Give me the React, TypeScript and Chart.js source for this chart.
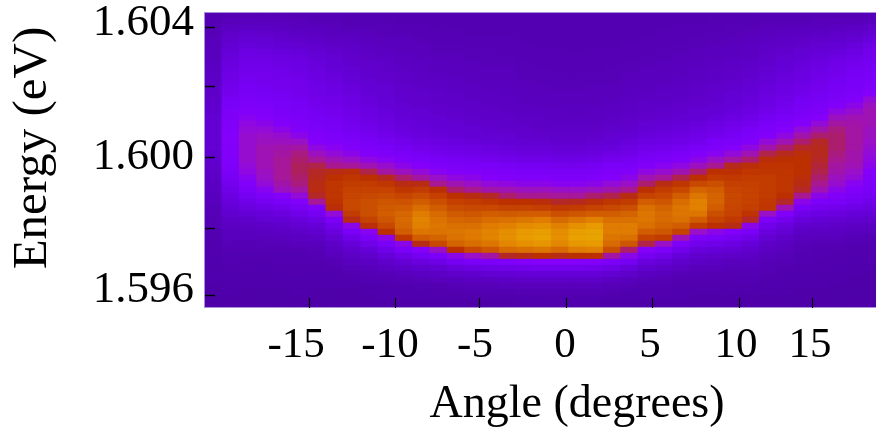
import React, { useEffect, useRef } from "react";
import { Chart, registerables } from "chart.js";

Chart.register(...registerables);

// Column angles (degrees), one per measured column
const angles = [-20.35,-19.35,-18.35,-17.35,-16.35,-15.35,-14.35,-13.35,-12.35,-11.35,-10.35,-9.35,-8.35,-7.35,-6.35,-5.35,-4.35,-3.35,-2.35,-1.35,-0.35,0.65,1.65,2.65,3.65,4.65,5.65,6.65,7.65,8.65,9.65,10.65,11.65,12.65,13.65,14.65,15.65,16.65,17.65];

const energyTop = 1.60434;
const energyStep = 0.00018;

const xTickLabels = ["-15", "-10", "-5", "0", "5", "10", "15"];
const xLabelAngles = [-15.57, -10.15, -5.25, -0.06, 4.84, 9.8, 14.07];
const xMarkAngles = [-14.82, -9.86, -5.02, 0, 4.96, 9.98, 14.19];
const yTickLabels = ["1.604", "1.600", "1.596"];
const yLabelEnergies = [1.604, 1.6, 1.596];
const yMarkEnergies = [1.60389, 1.60213, 1.6, 1.59787, 1.59587];

// Intensity per column, top row first (50 rows)
const c00 = [8,9,10,10,11,11,12,12,13,13, 14,14,15,15,16,17,17,18,18,18, 18,18,18,17,17,16,15,14,13,13, 12,11,10,10,9,9,8,8,7,7, 7,6,6,6,6,5,5,5,5,5];
const c01 = [9,11,13,15,17,18,20,21,22,23, 24,25,26,27,29,30,32,33,34,35, 36,36,35,35,34,33,31,29,27,25, 23,21,19,17,15,13,12,11,10,9, 8,8,7,7,6,6,6,5,5,5];
const c02 = [10,12,14,17,19,21,23,24,25,26, 27,28,29,30,31,33,35,37,39,40, 41,41,41,41,41,40,39,37,34,31, 28,25,22,19,16,14,12,11,9,9, 8,7,7,6,6,6,5,5,5,5];
const c03 = [10,12,14,16,18,20,22,24,25,26, 27,27,28,29,30,32,34,36,38,40, 42,43,44,44,44,44,43,42,40,37, 32,28,24,21,18,15,13,11,10,9, 8,7,7,6,6,6,5,5,5,5];
const c04 = [10,11,13,15,17,19,21,23,24,25, 26,27,27,28,29,30,31,33,35,38, 41,43,45,46,47,47,47,47,45,43, 36,30,26,22,19,16,14,12,10,9, 8,8,7,7,6,6,5,5,5,5];
const c05 = [9,11,12,14,16,18,20,22,23,24, 25,26,26,27,28,29,30,31,33,35, 38,42,46,49,50,51,51,50,49,46, 40,34,29,25,21,18,15,13,11,9, 8,8,7,7,6,6,6,5,5,5];
const c06 = [9,10,12,13,15,17,18,20,21,22, 23,24,25,25,26,27,28,29,30,32, 34,36,39,43,47,52,54,55,56,56, 54,47,34,28,24,20,17,14,12,10, 9,8,7,7,6,6,5,5,5,5];
const c07 = [9,10,11,12,14,15,17,18,19,20, 21,22,23,24,25,26,27,28,29,30, 32,34,37,40,44,48,56,58,60,60, 60,59,57,40,31,26,22,18,15,13, 11,9,8,7,7,6,5,5,5,5];
const c08 = [8,9,10,12,13,14,15,16,17,18, 19,20,21,22,23,24,25,26,27,28, 30,32,34,38,42,47,57,60,62,64, 65,66,66,62,56,38,30,25,20,17, 14,12,10,8,7,6,5,5,5,5];
const c09 = [8,9,10,11,12,13,14,15,16,17, 17,18,19,20,21,22,23,24,25,26, 28,30,32,35,39,44,52,58,62,64, 66,68,68,68,64,57,37,30,25,20, 16,13,11,9,8,6,6,5,5,5];
const c10 = [8,9,10,10,11,12,13,14,15,15, 16,17,18,18,19,20,21,22,23,24, 26,28,30,33,37,41,46,55,60,64, 67,70,71,72,70,66,58,38,30,25, 20,16,13,10,8,7,6,6,5,5];
const c11 = [8,8,9,10,11,11,12,13,13,14, 15,15,16,17,17,18,19,20,21,22, 24,26,28,31,34,38,43,50,56,60, 65,69,72,75,76,75,72,60,38,30, 24,19,15,12,9,7,6,6,5,5];
const c12 = [8,8,9,9,10,11,11,12,13,13, 14,14,15,16,16,17,18,19,20,21, 22,24,26,29,32,36,40,46,56,62, 67,72,77,82,85,84,80,72,56,36, 28,22,17,13,10,8,6,6,5,5];
const c13 = [8,8,8,9,9,10,10,11,12,12, 13,14,14,15,15,16,17,18,19,20, 21,23,25,27,30,33,37,42,48,58, 63,68,72,76,79,80,79,74,66,42, 31,24,18,14,11,8,7,6,5,5];
const c14 = [8,8,8,9,9,10,10,11,11,12, 12,13,13,14,15,15,16,17,18,19, 20,22,24,26,29,32,35,39,44,50, 58,63,67,71,75,78,80,79,74,58, 38,28,21,16,12,9,7,6,5,5];
const c15 = [8,8,8,8,9,9,10,10,11,11, 12,12,13,13,14,15,15,16,17,18, 19,21,23,25,28,31,34,38,42,48, 56,62,66,70,74,78,81,81,77,66, 42,30,23,17,13,10,8,6,5,5];
const c16 = [8,8,8,8,9,9,10,10,10,11, 11,12,12,13,13,14,15,15,16,17, 18,20,22,24,27,30,33,36,40,45, 54,60,66,72,77,82,85,85,80,70, 46,31,24,18,13,10,8,6,5,5];
const c17 = [8,8,8,8,9,9,9,10,10,11, 11,11,12,12,13,13,14,15,15,16, 18,19,21,23,26,29,32,35,39,44, 50,58,64,71,78,84,89,90,86,76, 54,33,25,19,14,11,8,6,5,5];
const c18 = [8,8,8,8,8,9,9,9,10,10, 10,11,11,12,12,13,13,14,15,16, 17,18,20,22,25,28,31,34,38,43, 48,58,64,72,80,88,94,95,90,78, 56,35,26,20,15,11,9,7,6,5];
const c19 = [8,8,8,8,8,8,9,9,9,10, 10,10,11,11,12,12,13,14,14,15, 16,18,20,22,25,28,31,34,38,43, 48,57,63,72,82,90,96,97,92,80, 58,36,27,20,15,11,9,7,6,5];
const c20 = [8,8,8,8,8,8,9,9,9,9, 10,10,10,11,11,12,13,13,14,15, 16,17,19,21,24,27,30,33,37,42, 47,54,61,68,76,84,89,90,86,76, 56,36,27,20,15,11,9,7,6,5];
const c21 = [8,8,8,8,8,8,8,9,9,9, 10,10,10,11,11,12,12,13,14,15, 16,17,19,21,24,27,30,33,37,42, 47,55,62,70,80,90,96,97,93,82, 58,36,27,20,15,11,9,7,6,5];
const c22 = [8,8,8,8,8,8,9,9,9,9, 10,10,11,11,11,12,13,13,14,15, 16,18,20,22,25,28,31,34,38,43, 50,57,64,72,84,94,98,98,94,84, 58,35,26,20,15,11,9,7,6,5];
const c23 = [8,8,8,8,8,8,9,9,9,10, 10,10,11,11,12,13,13,14,15,16, 18,19,21,24,27,30,33,36,40,45, 52,60,66,72,78,82,82,80,76,68, 46,31,24,18,13,10,8,6,5,5];
const c24 = [8,8,8,8,8,9,9,9,10,10, 11,11,12,12,13,14,14,15,16,17, 19,21,23,25,28,31,34,38,42,48, 56,62,68,74,78,82,82,78,70,50, 38,28,21,16,12,9,7,6,5,5];
const c25 = [8,8,8,8,9,9,9,10,10,11, 11,12,12,13,14,15,15,16,18,19, 21,23,25,28,31,35,39,44,50,58, 64,72,78,80,80,78,72,64,52,36, 28,22,17,13,10,8,7,6,5,5];
const c26 = [8,8,8,9,9,9,10,10,11,11, 12,12,13,14,14,15,16,17,19,20, 22,24,26,29,33,37,41,47,56,62, 66,70,74,76,76,74,70,62,42,32, 25,20,15,12,9,8,7,6,5,5];
const c27 = [8,8,9,9,9,10,10,11,11,12, 12,13,14,14,15,16,17,18,20,21, 23,25,28,31,35,39,44,52,60,66, 72,77,80,80,78,72,64,44,33,26, 20,16,13,10,8,7,6,6,5,5];
const c28 = [8,8,9,9,10,10,11,11,12,13, 13,14,15,15,16,17,18,19,21,23, 25,27,30,34,38,43,50,58,66,74, 80,84,84,80,72,62,42,32,26,21, 17,14,11,9,8,7,6,5,5,5];
const c29 = [8,9,9,10,10,11,12,12,13,14, 14,15,16,17,17,18,19,21,23,25, 27,30,33,37,42,48,58,62,68,72, 74,74,72,68,64,58,38,30,25,20, 16,13,11,9,8,7,6,5,5,5];
const c30 = [8,9,10,10,11,12,12,13,14,15, 15,16,17,18,19,20,21,23,25,27, 29,32,36,40,46,55,58,61,63,65, 66,66,65,64,61,56,35,28,23,19, 15,12,10,9,8,7,6,5,5,5];
const c31 = [8,9,10,11,12,13,13,14,15,16, 17,18,19,20,21,22,23,25,27,30, 32,35,39,44,50,57,60,62,63,64, 64,64,63,59,54,38,30,25,20,17, 14,12,10,9,8,7,6,5,5,5];
const c32 = [9,10,11,12,13,14,15,16,17,18, 19,20,21,22,23,24,26,28,30,33, 36,40,45,52,57,59,60,62,62,62, 62,61,60,42,32,26,22,18,15,13, 11,10,9,8,7,6,6,5,5,5];
const c33 = [9,10,11,13,14,15,17,18,19,20, 21,22,23,24,25,27,28,30,33,36, 39,44,50,55,58,59,60,60,60,60, 58,54,44,34,27,22,18,15,13,11, 10,9,8,7,7,6,6,5,5,5];
const c34 = [9,10,12,13,15,16,18,19,21,22, 23,24,25,26,28,29,31,33,36,40, 45,50,54,57,58,58,58,57,56,54, 48,38,30,25,21,17,14,12,10,9, 8,8,7,7,6,6,5,5,5,5];
const c35 = [9,11,12,14,16,18,20,21,23,24, 25,26,27,28,29,31,33,36,40,45, 50,54,55,55,54,53,52,50,48,44, 38,32,27,23,19,16,13,11,9,8, 8,7,7,6,6,6,5,5,5,5];
const c36 = [9,11,13,15,17,19,21,23,25,26, 27,28,29,30,32,35,39,43,46,49, 50,50,50,49,48,46,45,43,41,38, 34,30,26,22,18,15,13,11,9,8, 7,7,7,6,6,5,5,5,5,5];
const c37 = [9,11,14,16,18,21,23,25,27,28, 29,30,31,32,35,38,41,44,45,46, 46,46,46,45,45,44,42,40,37,34, 31,28,24,20,17,14,12,10,8,7, 7,6,6,6,5,5,5,5,5,5];
const c38 = [10,12,15,18,21,24,26,27,28,29, 30,31,33,36,40,43,44,44,44,43, 43,42,41,40,39,38,36,34,32,30, 28,25,22,19,16,13,11,9,8,7, 7,6,6,5,5,5,5,5,5,5];

const columns = [c00,c01,c02,c03,c04,c05,c06,c07,c08,c09,c10,c11,c12,c13,c14,c15,c16,c17,c18,c19,c20,c21,c22,c23,c24,c25,c26,c27,c28,c29,c30,c31,c32,c33,c34,c35,c36,c37,c38];

const ramp: [number, number, number, number][] = [
  [0, 0x48, 0x00, 0x9a], [10, 0x56, 0x00, 0xb8], [20, 0x66, 0x00, 0xd8], [30, 0x7a, 0x00, 0xf8],
  [36, 0x84, 0x00, 0xfa], [42, 0x9a, 0x10, 0xc8], [48, 0xa8, 0x18, 0x90], [54, 0xb4, 0x28, 0x28],
  [58, 0xbc, 0x30, 0x00], [66, 0xc8, 0x48, 0x00], [74, 0xd4, 0x64, 0x00], [82, 0xe0, 0x7c, 0x00],
  [90, 0xe6, 0x90, 0x00], [100, 0xea, 0xa8, 0x00],
];

function colorOf(v: number): string {
  for (let i = 1; i < ramp.length; i++) {
    if (v <= ramp[i][0]) {
      const a = ramp[i - 1], b = ramp[i];
      const t = (v - a[0]) / (b[0] - a[0]);
      const m = (k: number) => Math.round(a[k] + (b[k] - a[k]) * t);
      return `rgb(${m(1)},${m(2)},${m(3)})`;
    }
  }
  return "#eaa800";
}

const SERIF = "'Liberation Serif', serif";

const decorations = {
  id: "decorations",
  afterDatasetsDraw(chart: any) {
    const { ctx, chartArea: a, scales } = chart;
    ctx.save();
    ctx.strokeStyle = "#a98fe0";
    ctx.lineWidth = 1;
    ctx.strokeRect(a.left + 0.5, a.top + 0.5, a.right - a.left, a.bottom - a.top - 1);
    ctx.strokeStyle = "#000";
    ctx.lineWidth = 1.2;
    xMarkAngles.forEach((v) => {
      const p = Math.round(scales.x.getPixelForValue(v)) + 0.5;
      ctx.beginPath(); ctx.moveTo(p, a.bottom - 10); ctx.lineTo(p, a.bottom); ctx.stroke();
    });
    ctx.lineWidth = 1.4;
    yMarkEnergies.forEach((v) => {
      const p = Math.round(scales.y.getPixelForValue(v)) + 0.5;
      ctx.beginPath(); ctx.moveTo(a.left + 1, p); ctx.lineTo(a.left + 11, p); ctx.stroke();
    });
    ctx.fillStyle = "#000";
    ctx.textAlign = "center";
    ctx.textBaseline = "middle";
    ctx.font = `46px ${SERIF}`;
    ctx.fillText("Angle (degrees)", 577, 405);
    ctx.translate(33, 148);
    ctx.rotate(-Math.PI / 2);
    ctx.font = `49px ${SERIF}`;
    ctx.fillText("Energy (eV)", 0, 0);
    ctx.restore();
  },
};

const plotBackground = {
  id: "plotBackground",
  beforeDatasetsDraw(chart: any) {
    const { ctx, chartArea: a } = chart;
    ctx.save();
    ctx.fillStyle = colorOf(8);
    ctx.fillRect(a.left, a.top, a.right - a.left, a.bottom - a.top);
    ctx.restore();
  },
};

export default function App() {
  const ref = useRef<HTMLCanvasElement>(null);
  useEffect(() => {
    const rowCount = columns[0].length;
    const datasets = [];
    for (let r = 0; r < rowCount; r++) {
      const hi = energyTop - energyStep * r;
      const lo = hi - energyStep;
      datasets.push({
        label: `row ${r}`,
        data: angles.map((x) => ({ x, y: [lo, hi] })),
        backgroundColor: columns.map((c) => colorOf(c[r])),
        borderWidth: 0,
        grouped: false,
        barPercentage: 1,
        categoryPercentage: 1,
      });
    }
    const zeroPad = (s: any) => {
      s.paddingTop = 0; s.paddingBottom = 0; s.paddingLeft = 0; s.paddingRight = 0;
    };
    const chart = new Chart(ref.current!, {
      type: "bar",
      data: { datasets } as any,
      plugins: [plotBackground, decorations],
      options: {
        animation: false,
        responsive: false,
        layout: { padding: { top: 12, left: 0, right: 0, bottom: 0 } },
        plugins: { legend: { display: false }, tooltip: { enabled: false } },
        scales: {
          x: {
            type: "linear",
            offset: false,
            min: -20.88,
            max: 17.88,
            grid: { display: false, drawTicks: false },
            border: { display: false },
            afterBuildTicks: (s: any) => { s.ticks = xLabelAngles.map((value) => ({ value })); },
            afterFit: (s: any) => { s.height = 126; zeroPad(s); },
            ticks: {
              autoSkip: false,
              maxRotation: 0,
              padding: 12,
              color: "#000",
              font: { family: SERIF, size: 43 },
              callback: (_v: any, i: number) => xTickLabels[i],
            },
          },
          y: {
            type: "linear",
            min: 1.595479,
            max: 1.60434,
            grid: { display: false, drawTicks: false },
            border: { display: false },
            afterBuildTicks: (s: any) => { s.ticks = yLabelEnergies.map((value) => ({ value })); },
            afterFit: (s: any) => { s.width = 204; zeroPad(s); },
            ticks: {
              autoSkip: false,
              padding: 10,
              color: "#000",
              font: { family: SERIF, size: 45 },
              callback: (_v: any, i: number) => yTickLabels[i],
            },
          },
        },
      },
    } as any);
    return () => chart.destroy();
  }, []);
  return (
    <div style={{ position: "absolute", left: 0, top: 0, width: 876, height: 434, background: "#fff" }}>
      <canvas ref={ref} width={876} height={434} style={{ display: "block" }} />
    </div>
  );
}
